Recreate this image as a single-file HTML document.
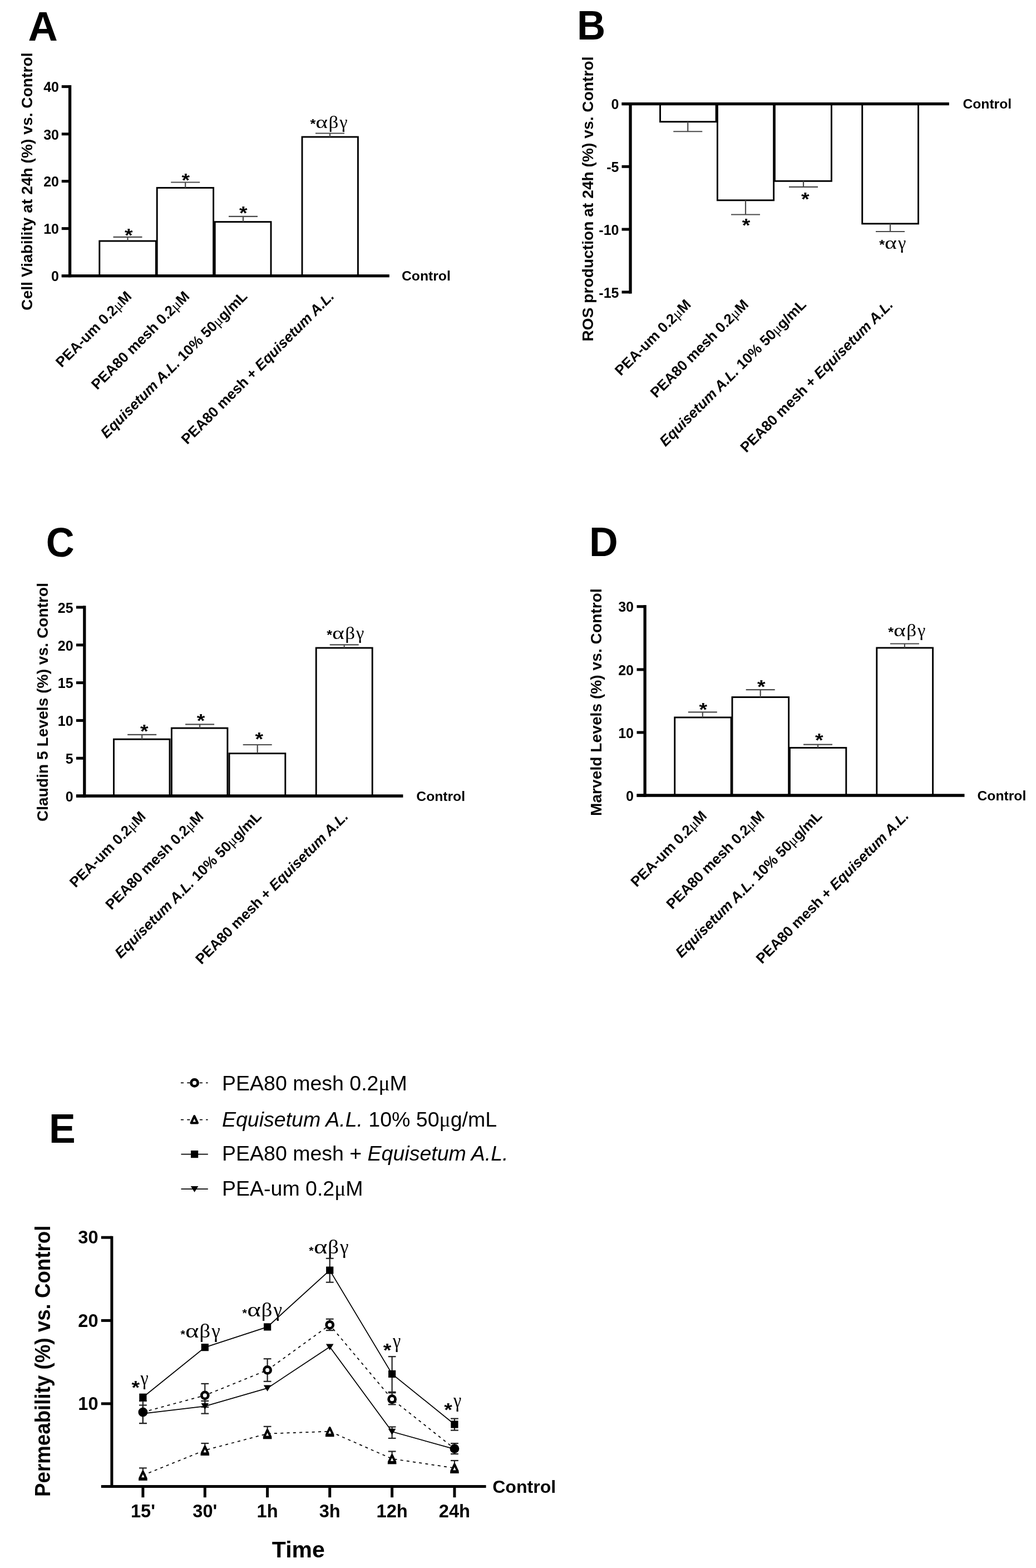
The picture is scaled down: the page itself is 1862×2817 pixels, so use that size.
<!DOCTYPE html>
<html lang="en"><head><meta charset="utf-8"><title>Figure</title>
<style>html,body{margin:0;padding:0;background:#fff;width:1862px;height:2817px;overflow:hidden}svg{display:block}text{white-space:pre}</style></head><body>
<svg width="1862" height="2817" viewBox="0 0 1862 2817" role="img" aria-label="Figure panels A to E">
<rect x="0" y="0" width="1862" height="2817" fill="#fff"/>
<g>
<rect x="178.80" y="433.00" width="101.60" height="62.60" fill="#fff" stroke="#000" stroke-width="2.9"/>
<rect x="282.20" y="337.40" width="101.40" height="158.20" fill="#fff" stroke="#000" stroke-width="2.9"/>
<rect x="386.20" y="398.60" width="100.80" height="97.00" fill="#fff" stroke="#000" stroke-width="2.9"/>
<rect x="543.00" y="246.00" width="100.40" height="249.60" fill="#fff" stroke="#000" stroke-width="2.9"/>
<line x1="229.50" y1="433.00" x2="229.50" y2="425.80" stroke="#4a4a4a" stroke-width="2.2"/>
<line x1="203.50" y1="425.80" x2="255.50" y2="425.80" stroke="#4a4a4a" stroke-width="2.2"/>
<line x1="333.20" y1="337.40" x2="333.20" y2="327.50" stroke="#4a4a4a" stroke-width="2.2"/>
<line x1="307.20" y1="327.50" x2="359.20" y2="327.50" stroke="#4a4a4a" stroke-width="2.2"/>
<line x1="437.00" y1="398.60" x2="437.00" y2="388.80" stroke="#4a4a4a" stroke-width="2.2"/>
<line x1="411.00" y1="388.80" x2="463.00" y2="388.80" stroke="#4a4a4a" stroke-width="2.2"/>
<line x1="593.00" y1="246.00" x2="593.00" y2="239.50" stroke="#4a4a4a" stroke-width="2.2"/>
<line x1="567.00" y1="239.50" x2="619.00" y2="239.50" stroke="#4a4a4a" stroke-width="2.2"/>
<line x1="125.60" y1="152.95" x2="125.60" y2="498.25" stroke="#000" stroke-width="5.3"/>
<line x1="110.80" y1="495.60" x2="699.80" y2="495.60" stroke="#000" stroke-width="5.3"/>
<line x1="110.80" y1="495.60" x2="125.60" y2="495.60" stroke="#000" stroke-width="5"/>
<text transform="translate(106.00 505.34) scale(1 1.04)" font-family='"Liberation Sans", Arial, Helvetica, sans-serif' font-size="25" font-weight="bold" font-style="normal" text-anchor="end" fill="#000">0</text>
<line x1="110.80" y1="410.60" x2="125.60" y2="410.60" stroke="#000" stroke-width="5"/>
<text transform="translate(106.00 420.34) scale(1 1.04)" font-family='"Liberation Sans", Arial, Helvetica, sans-serif' font-size="25" font-weight="bold" font-style="normal" text-anchor="end" fill="#000">10</text>
<line x1="110.80" y1="325.60" x2="125.60" y2="325.60" stroke="#000" stroke-width="5"/>
<text transform="translate(106.00 335.34) scale(1 1.04)" font-family='"Liberation Sans", Arial, Helvetica, sans-serif' font-size="25" font-weight="bold" font-style="normal" text-anchor="end" fill="#000">20</text>
<line x1="110.80" y1="240.80" x2="125.60" y2="240.80" stroke="#000" stroke-width="5"/>
<text transform="translate(106.00 250.54) scale(1 1.04)" font-family='"Liberation Sans", Arial, Helvetica, sans-serif' font-size="25" font-weight="bold" font-style="normal" text-anchor="end" fill="#000">30</text>
<line x1="110.80" y1="155.60" x2="125.60" y2="155.60" stroke="#000" stroke-width="5"/>
<text transform="translate(106.00 165.34) scale(1 1.04)" font-family='"Liberation Sans", Arial, Helvetica, sans-serif' font-size="25" font-weight="bold" font-style="normal" text-anchor="end" fill="#000">40</text>
<text transform="translate(722.00 504.40)" font-family='"Liberation Sans", Arial, Helvetica, sans-serif' font-size="24.7" font-weight="bold" font-style="normal" text-anchor="start" fill="#000">Control</text>
<text transform="translate(50.60 73.30)" font-family='"Liberation Sans", Arial, Helvetica, sans-serif' font-size="73.8" font-weight="bold" font-style="normal" text-anchor="start" fill="#000">A</text>
<text transform="translate(57.80 94.50) rotate(-90)" font-family='"Liberation Sans", Arial, Helvetica, sans-serif' font-size="28.2" font-weight="bold" font-style="normal" text-anchor="end" fill="#000">Cell Viability at 24h (%) vs. Control</text>
<text transform="translate(238.00 534.00) rotate(-45)" font-family='"Liberation Sans", Arial, Helvetica, sans-serif' font-size="26" font-weight="bold" font-style="normal" text-anchor="end" fill="#000"><tspan>PEA-um 0.2</tspan><tspan font-family="'Liberation Serif', 'Times New Roman', serif" font-weight="normal" font-style="normal">μ</tspan><tspan>M</tspan></text>
<text transform="translate(342.00 534.00) rotate(-45)" font-family='"Liberation Sans", Arial, Helvetica, sans-serif' font-size="26" font-weight="bold" font-style="normal" text-anchor="end" fill="#000"><tspan>PEA80 mesh 0.2</tspan><tspan font-family="'Liberation Serif', 'Times New Roman', serif" font-weight="normal" font-style="normal">μ</tspan><tspan>M</tspan></text>
<text transform="translate(446.00 534.00) rotate(-45)" font-family='"Liberation Sans", Arial, Helvetica, sans-serif' font-size="26" font-weight="bold" font-style="normal" text-anchor="end" fill="#000"><tspan font-style="italic">Equisetum A.L.</tspan><tspan> 10% 50</tspan><tspan font-family="'Liberation Serif', 'Times New Roman', serif" font-weight="normal" font-style="normal">μ</tspan><tspan>g/mL</tspan></text>
<text transform="translate(602.00 534.00) rotate(-45)" font-family='"Liberation Sans", Arial, Helvetica, sans-serif' font-size="26" font-weight="bold" font-style="normal" text-anchor="end" fill="#000"><tspan>PEA80 mesh + </tspan><tspan font-style="italic">Equisetum A.L.</tspan></text>
<text transform="translate(223.99 433.57) scale(1.1 1)" font-family='"Liberation Sans", Arial, Helvetica, sans-serif' font-size="34" font-weight="bold" font-style="normal" text-anchor="start" fill="#000">*</text>
<text transform="translate(326.49 334.87) scale(1.1 1)" font-family='"Liberation Sans", Arial, Helvetica, sans-serif' font-size="34" font-weight="bold" font-style="normal" text-anchor="start" fill="#000">*</text>
<text transform="translate(429.89 393.87) scale(1.1 1)" font-family='"Liberation Sans", Arial, Helvetica, sans-serif' font-size="34" font-weight="bold" font-style="normal" text-anchor="start" fill="#000">*</text>
<text font-family='"Liberation Serif", "Times New Roman", serif' font-size="32" font-weight="normal" fill="#000"><tspan x="557.40" y="230.75" font-family='"Liberation Sans", Arial, Helvetica, sans-serif' font-weight="bold" font-size="23" textLength="9.85" lengthAdjust="spacingAndGlyphs">*</tspan><tspan x="567.17" y="229.60" textLength="21.73" lengthAdjust="spacingAndGlyphs">α</tspan><tspan x="590.51" y="229.60" textLength="17.82" lengthAdjust="spacingAndGlyphs">β</tspan><tspan x="610.38" y="229.60" textLength="14.31" lengthAdjust="spacingAndGlyphs">γ</tspan></text>
<rect x="1186.50" y="186.60" width="100.60" height="32.15" fill="#fff" stroke="#000" stroke-width="2.9"/>
<rect x="1289.40" y="186.60" width="101.20" height="173.20" fill="#fff" stroke="#000" stroke-width="2.9"/>
<rect x="1392.40" y="186.60" width="102.00" height="138.70" fill="#fff" stroke="#000" stroke-width="2.9"/>
<rect x="1549.70" y="186.60" width="100.80" height="215.30" fill="#fff" stroke="#000" stroke-width="2.9"/>
<line x1="1236.25" y1="218.75" x2="1236.25" y2="236.25" stroke="#4a4a4a" stroke-width="2.2"/>
<line x1="1210.25" y1="236.25" x2="1262.25" y2="236.25" stroke="#4a4a4a" stroke-width="2.2"/>
<line x1="1340.00" y1="359.80" x2="1340.00" y2="385.50" stroke="#4a4a4a" stroke-width="2.2"/>
<line x1="1314.00" y1="385.50" x2="1366.00" y2="385.50" stroke="#4a4a4a" stroke-width="2.2"/>
<line x1="1444.00" y1="325.30" x2="1444.00" y2="335.80" stroke="#4a4a4a" stroke-width="2.2"/>
<line x1="1418.00" y1="335.80" x2="1470.00" y2="335.80" stroke="#4a4a4a" stroke-width="2.2"/>
<line x1="1600.00" y1="401.90" x2="1600.00" y2="416.00" stroke="#4a4a4a" stroke-width="2.2"/>
<line x1="1574.00" y1="416.00" x2="1626.00" y2="416.00" stroke="#4a4a4a" stroke-width="2.2"/>
<line x1="1133.00" y1="183.95" x2="1133.00" y2="527.45" stroke="#000" stroke-width="5.3"/>
<line x1="1117.50" y1="186.60" x2="1705.80" y2="186.60" stroke="#000" stroke-width="5.3"/>
<line x1="1117.50" y1="186.60" x2="1133.00" y2="186.60" stroke="#000" stroke-width="5"/>
<text transform="translate(1112.50 196.34) scale(1 1.04)" font-family='"Liberation Sans", Arial, Helvetica, sans-serif' font-size="25" font-weight="bold" font-style="normal" text-anchor="end" fill="#000">0</text>
<line x1="1117.50" y1="299.30" x2="1133.00" y2="299.30" stroke="#000" stroke-width="5"/>
<text transform="translate(1112.50 309.04) scale(1 1.04)" font-family='"Liberation Sans", Arial, Helvetica, sans-serif' font-size="25" font-weight="bold" font-style="normal" text-anchor="end" fill="#000">-5</text>
<line x1="1117.50" y1="412.00" x2="1133.00" y2="412.00" stroke="#000" stroke-width="5"/>
<text transform="translate(1112.50 421.74) scale(1 1.04)" font-family='"Liberation Sans", Arial, Helvetica, sans-serif' font-size="25" font-weight="bold" font-style="normal" text-anchor="end" fill="#000">-10</text>
<line x1="1117.50" y1="524.80" x2="1133.00" y2="524.80" stroke="#000" stroke-width="5"/>
<text transform="translate(1112.50 534.54) scale(1 1.04)" font-family='"Liberation Sans", Arial, Helvetica, sans-serif' font-size="25" font-weight="bold" font-style="normal" text-anchor="end" fill="#000">-15</text>
<text transform="translate(1730.40 195.40)" font-family='"Liberation Sans", Arial, Helvetica, sans-serif' font-size="24.7" font-weight="bold" font-style="normal" text-anchor="start" fill="#000">Control</text>
<text transform="translate(1036.90 71.30) scale(0.96 1)" font-family='"Liberation Sans", Arial, Helvetica, sans-serif' font-size="73.8" font-weight="bold" font-style="normal" text-anchor="start" fill="#000">B</text>
<text transform="translate(1066.00 101.50) rotate(-90)" font-family='"Liberation Sans", Arial, Helvetica, sans-serif' font-size="28.2" font-weight="bold" font-style="normal" text-anchor="end" fill="#000">ROS production at 24h (%) vs. Control</text>
<text transform="translate(1243.20 548.80) rotate(-45)" font-family='"Liberation Sans", Arial, Helvetica, sans-serif' font-size="26" font-weight="bold" font-style="normal" text-anchor="end" fill="#000"><tspan>PEA-um 0.2</tspan><tspan font-family="'Liberation Serif', 'Times New Roman', serif" font-weight="normal" font-style="normal">μ</tspan><tspan>M</tspan></text>
<text transform="translate(1346.70 548.80) rotate(-45)" font-family='"Liberation Sans", Arial, Helvetica, sans-serif' font-size="26" font-weight="bold" font-style="normal" text-anchor="end" fill="#000"><tspan>PEA80 mesh 0.2</tspan><tspan font-family="'Liberation Serif', 'Times New Roman', serif" font-weight="normal" font-style="normal">μ</tspan><tspan>M</tspan></text>
<text transform="translate(1450.40 548.80) rotate(-45)" font-family='"Liberation Sans", Arial, Helvetica, sans-serif' font-size="26" font-weight="bold" font-style="normal" text-anchor="end" fill="#000"><tspan font-style="italic">Equisetum A.L.</tspan><tspan> 10% 50</tspan><tspan font-family="'Liberation Serif', 'Times New Roman', serif" font-weight="normal" font-style="normal">μ</tspan><tspan>g/mL</tspan></text>
<text transform="translate(1606.70 548.80) rotate(-45)" font-family='"Liberation Sans", Arial, Helvetica, sans-serif' font-size="26" font-weight="bold" font-style="normal" text-anchor="end" fill="#000"><tspan>PEA80 mesh + </tspan><tspan font-style="italic">Equisetum A.L.</tspan></text>
<text transform="translate(1333.69 415.67) scale(1.1 1)" font-family='"Liberation Sans", Arial, Helvetica, sans-serif' font-size="34" font-weight="bold" font-style="normal" text-anchor="start" fill="#000">*</text>
<text transform="translate(1439.99 369.07) scale(1.1 1)" font-family='"Liberation Sans", Arial, Helvetica, sans-serif' font-size="34" font-weight="bold" font-style="normal" text-anchor="start" fill="#000">*</text>
<text font-family='"Liberation Serif", "Times New Roman", serif' font-size="32" font-weight="normal" fill="#000"><tspan x="1580.15" y="448.15" font-family='"Liberation Sans", Arial, Helvetica, sans-serif' font-weight="bold" font-size="23" textLength="9.85" lengthAdjust="spacingAndGlyphs">*</tspan><tspan x="1589.92" y="447.00" textLength="21.73" lengthAdjust="spacingAndGlyphs">α</tspan><tspan x="1613.93" y="447.00" textLength="14.31" lengthAdjust="spacingAndGlyphs">γ</tspan></text>
<rect x="204.50" y="1328.10" width="100.50" height="101.90" fill="#fff" stroke="#000" stroke-width="2.9"/>
<rect x="308.40" y="1308.10" width="100.50" height="121.90" fill="#fff" stroke="#000" stroke-width="2.9"/>
<rect x="412.00" y="1353.60" width="100.80" height="76.40" fill="#fff" stroke="#000" stroke-width="2.9"/>
<rect x="568.20" y="1164.00" width="101.00" height="266.00" fill="#fff" stroke="#000" stroke-width="2.9"/>
<line x1="255.20" y1="1328.10" x2="255.20" y2="1319.80" stroke="#4a4a4a" stroke-width="2.2"/>
<line x1="229.20" y1="1319.80" x2="281.20" y2="1319.80" stroke="#4a4a4a" stroke-width="2.2"/>
<line x1="359.10" y1="1308.10" x2="359.10" y2="1301.40" stroke="#4a4a4a" stroke-width="2.2"/>
<line x1="333.10" y1="1301.40" x2="385.10" y2="1301.40" stroke="#4a4a4a" stroke-width="2.2"/>
<line x1="462.70" y1="1353.60" x2="462.70" y2="1338.00" stroke="#4a4a4a" stroke-width="2.2"/>
<line x1="436.70" y1="1338.00" x2="488.70" y2="1338.00" stroke="#4a4a4a" stroke-width="2.2"/>
<line x1="618.70" y1="1164.00" x2="618.70" y2="1158.30" stroke="#4a4a4a" stroke-width="2.2"/>
<line x1="592.70" y1="1158.30" x2="644.70" y2="1158.30" stroke="#4a4a4a" stroke-width="2.2"/>
<line x1="151.80" y1="1088.35" x2="151.80" y2="1432.65" stroke="#000" stroke-width="5.3"/>
<line x1="136.90" y1="1430.00" x2="724.40" y2="1430.00" stroke="#000" stroke-width="5.3"/>
<line x1="136.90" y1="1430.00" x2="151.80" y2="1430.00" stroke="#000" stroke-width="5"/>
<text transform="translate(131.60 1439.74) scale(1 1.04)" font-family='"Liberation Sans", Arial, Helvetica, sans-serif' font-size="25" font-weight="bold" font-style="normal" text-anchor="end" fill="#000">0</text>
<line x1="136.90" y1="1362.20" x2="151.80" y2="1362.20" stroke="#000" stroke-width="5"/>
<text transform="translate(131.60 1371.94) scale(1 1.04)" font-family='"Liberation Sans", Arial, Helvetica, sans-serif' font-size="25" font-weight="bold" font-style="normal" text-anchor="end" fill="#000">5</text>
<line x1="136.90" y1="1294.40" x2="151.80" y2="1294.40" stroke="#000" stroke-width="5"/>
<text transform="translate(131.60 1304.14) scale(1 1.04)" font-family='"Liberation Sans", Arial, Helvetica, sans-serif' font-size="25" font-weight="bold" font-style="normal" text-anchor="end" fill="#000">10</text>
<line x1="136.90" y1="1226.60" x2="151.80" y2="1226.60" stroke="#000" stroke-width="5"/>
<text transform="translate(131.60 1236.34) scale(1 1.04)" font-family='"Liberation Sans", Arial, Helvetica, sans-serif' font-size="25" font-weight="bold" font-style="normal" text-anchor="end" fill="#000">15</text>
<line x1="136.90" y1="1158.80" x2="151.80" y2="1158.80" stroke="#000" stroke-width="5"/>
<text transform="translate(131.60 1168.54) scale(1 1.04)" font-family='"Liberation Sans", Arial, Helvetica, sans-serif' font-size="25" font-weight="bold" font-style="normal" text-anchor="end" fill="#000">20</text>
<line x1="136.90" y1="1091.00" x2="151.80" y2="1091.00" stroke="#000" stroke-width="5"/>
<text transform="translate(131.60 1100.74) scale(1 1.04)" font-family='"Liberation Sans", Arial, Helvetica, sans-serif' font-size="25" font-weight="bold" font-style="normal" text-anchor="end" fill="#000">25</text>
<text transform="translate(748.30 1438.80)" font-family='"Liberation Sans", Arial, Helvetica, sans-serif' font-size="24.7" font-weight="bold" font-style="normal" text-anchor="start" fill="#000">Control</text>
<text transform="translate(82.80 999.60) scale(0.955 1)" font-family='"Liberation Sans", Arial, Helvetica, sans-serif' font-size="73.8" font-weight="bold" font-style="normal" text-anchor="start" fill="#000">C</text>
<text transform="translate(86.20 1046.90) rotate(-90)" font-family='"Liberation Sans", Arial, Helvetica, sans-serif' font-size="28.2" font-weight="bold" font-style="normal" text-anchor="end" fill="#000">Claudin 5 Levels (%) vs. Control</text>
<text transform="translate(263.20 1468.40) rotate(-45)" font-family='"Liberation Sans", Arial, Helvetica, sans-serif' font-size="26" font-weight="bold" font-style="normal" text-anchor="end" fill="#000"><tspan>PEA-um 0.2</tspan><tspan font-family="'Liberation Serif', 'Times New Roman', serif" font-weight="normal" font-style="normal">μ</tspan><tspan>M</tspan></text>
<text transform="translate(367.40 1468.40) rotate(-45)" font-family='"Liberation Sans", Arial, Helvetica, sans-serif' font-size="26" font-weight="bold" font-style="normal" text-anchor="end" fill="#000"><tspan>PEA80 mesh 0.2</tspan><tspan font-family="'Liberation Serif', 'Times New Roman', serif" font-weight="normal" font-style="normal">μ</tspan><tspan>M</tspan></text>
<text transform="translate(471.40 1468.40) rotate(-45)" font-family='"Liberation Sans", Arial, Helvetica, sans-serif' font-size="26" font-weight="bold" font-style="normal" text-anchor="end" fill="#000"><tspan font-style="italic">Equisetum A.L.</tspan><tspan> 10% 50</tspan><tspan font-family="'Liberation Serif', 'Times New Roman', serif" font-weight="normal" font-style="normal">μ</tspan><tspan>g/mL</tspan></text>
<text transform="translate(627.40 1468.40) rotate(-45)" font-family='"Liberation Sans", Arial, Helvetica, sans-serif' font-size="26" font-weight="bold" font-style="normal" text-anchor="end" fill="#000"><tspan>PEA80 mesh + </tspan><tspan font-style="italic">Equisetum A.L.</tspan></text>
<text transform="translate(251.89 1325.27) scale(1.1 1)" font-family='"Liberation Sans", Arial, Helvetica, sans-serif' font-size="34" font-weight="bold" font-style="normal" text-anchor="start" fill="#000">*</text>
<text transform="translate(353.69 1305.67) scale(1.1 1)" font-family='"Liberation Sans", Arial, Helvetica, sans-serif' font-size="34" font-weight="bold" font-style="normal" text-anchor="start" fill="#000">*</text>
<text transform="translate(458.49 1339.17) scale(1.1 1)" font-family='"Liberation Sans", Arial, Helvetica, sans-serif' font-size="34" font-weight="bold" font-style="normal" text-anchor="start" fill="#000">*</text>
<text font-family='"Liberation Serif", "Times New Roman", serif' font-size="32" font-weight="normal" fill="#000"><tspan x="587.15" y="1149.15" font-family='"Liberation Sans", Arial, Helvetica, sans-serif' font-weight="bold" font-size="23" textLength="9.85" lengthAdjust="spacingAndGlyphs">*</tspan><tspan x="596.92" y="1148.00" textLength="21.73" lengthAdjust="spacingAndGlyphs">α</tspan><tspan x="620.26" y="1148.00" textLength="17.82" lengthAdjust="spacingAndGlyphs">β</tspan><tspan x="640.13" y="1148.00" textLength="14.31" lengthAdjust="spacingAndGlyphs">γ</tspan></text>
<rect x="1212.70" y="1288.90" width="101.40" height="140.10" fill="#fff" stroke="#000" stroke-width="2.9"/>
<rect x="1316.00" y="1252.50" width="101.60" height="176.50" fill="#fff" stroke="#000" stroke-width="2.9"/>
<rect x="1419.40" y="1343.40" width="101.40" height="85.60" fill="#fff" stroke="#000" stroke-width="2.9"/>
<rect x="1575.80" y="1163.90" width="100.80" height="265.10" fill="#fff" stroke="#000" stroke-width="2.9"/>
<line x1="1262.80" y1="1288.90" x2="1262.80" y2="1279.40" stroke="#4a4a4a" stroke-width="2.2"/>
<line x1="1236.80" y1="1279.40" x2="1288.80" y2="1279.40" stroke="#4a4a4a" stroke-width="2.2"/>
<line x1="1366.70" y1="1252.50" x2="1366.70" y2="1239.10" stroke="#4a4a4a" stroke-width="2.2"/>
<line x1="1340.70" y1="1239.10" x2="1392.70" y2="1239.10" stroke="#4a4a4a" stroke-width="2.2"/>
<line x1="1470.00" y1="1343.40" x2="1470.00" y2="1337.60" stroke="#4a4a4a" stroke-width="2.2"/>
<line x1="1444.00" y1="1337.60" x2="1496.00" y2="1337.60" stroke="#4a4a4a" stroke-width="2.2"/>
<line x1="1625.90" y1="1163.90" x2="1625.90" y2="1156.50" stroke="#4a4a4a" stroke-width="2.2"/>
<line x1="1599.90" y1="1156.50" x2="1651.90" y2="1156.50" stroke="#4a4a4a" stroke-width="2.2"/>
<line x1="1159.10" y1="1087.05" x2="1159.10" y2="1431.65" stroke="#000" stroke-width="5.3"/>
<line x1="1144.50" y1="1429.00" x2="1733.50" y2="1429.00" stroke="#000" stroke-width="5.3"/>
<line x1="1144.50" y1="1429.00" x2="1159.10" y2="1429.00" stroke="#000" stroke-width="5"/>
<text transform="translate(1139.00 1438.74) scale(1 1.04)" font-family='"Liberation Sans", Arial, Helvetica, sans-serif' font-size="25" font-weight="bold" font-style="normal" text-anchor="end" fill="#000">0</text>
<line x1="1144.50" y1="1315.90" x2="1159.10" y2="1315.90" stroke="#000" stroke-width="5"/>
<text transform="translate(1139.00 1325.64) scale(1 1.04)" font-family='"Liberation Sans", Arial, Helvetica, sans-serif' font-size="25" font-weight="bold" font-style="normal" text-anchor="end" fill="#000">10</text>
<line x1="1144.50" y1="1202.90" x2="1159.10" y2="1202.90" stroke="#000" stroke-width="5"/>
<text transform="translate(1139.00 1212.64) scale(1 1.04)" font-family='"Liberation Sans", Arial, Helvetica, sans-serif' font-size="25" font-weight="bold" font-style="normal" text-anchor="end" fill="#000">20</text>
<line x1="1144.50" y1="1089.70" x2="1159.10" y2="1089.70" stroke="#000" stroke-width="5"/>
<text transform="translate(1139.00 1099.44) scale(1 1.04)" font-family='"Liberation Sans", Arial, Helvetica, sans-serif' font-size="25" font-weight="bold" font-style="normal" text-anchor="end" fill="#000">30</text>
<text transform="translate(1756.50 1437.80)" font-family='"Liberation Sans", Arial, Helvetica, sans-serif' font-size="24.7" font-weight="bold" font-style="normal" text-anchor="start" fill="#000">Control</text>
<text transform="translate(1059.10 999.30) scale(0.97 1)" font-family='"Liberation Sans", Arial, Helvetica, sans-serif' font-size="73.8" font-weight="bold" font-style="normal" text-anchor="start" fill="#000">D</text>
<text transform="translate(1081.20 1057.20) rotate(-90)" font-family='"Liberation Sans", Arial, Helvetica, sans-serif' font-size="28.2" font-weight="bold" font-style="normal" text-anchor="end" fill="#000">Marveld Levels (%) vs. Control</text>
<text transform="translate(1271.70 1467.40) rotate(-45)" font-family='"Liberation Sans", Arial, Helvetica, sans-serif' font-size="26" font-weight="bold" font-style="normal" text-anchor="end" fill="#000"><tspan>PEA-um 0.2</tspan><tspan font-family="'Liberation Serif', 'Times New Roman', serif" font-weight="normal" font-style="normal">μ</tspan><tspan>M</tspan></text>
<text transform="translate(1375.50 1467.40) rotate(-45)" font-family='"Liberation Sans", Arial, Helvetica, sans-serif' font-size="26" font-weight="bold" font-style="normal" text-anchor="end" fill="#000"><tspan>PEA80 mesh 0.2</tspan><tspan font-family="'Liberation Serif', 'Times New Roman', serif" font-weight="normal" font-style="normal">μ</tspan><tspan>M</tspan></text>
<text transform="translate(1479.10 1467.40) rotate(-45)" font-family='"Liberation Sans", Arial, Helvetica, sans-serif' font-size="26" font-weight="bold" font-style="normal" text-anchor="end" fill="#000"><tspan font-style="italic">Equisetum A.L.</tspan><tspan> 10% 50</tspan><tspan font-family="'Liberation Serif', 'Times New Roman', serif" font-weight="normal" font-style="normal">μ</tspan><tspan>g/mL</tspan></text>
<text transform="translate(1634.90 1467.40) rotate(-45)" font-family='"Liberation Sans", Arial, Helvetica, sans-serif' font-size="26" font-weight="bold" font-style="normal" text-anchor="end" fill="#000"><tspan>PEA80 mesh + </tspan><tspan font-style="italic">Equisetum A.L.</tspan></text>
<text transform="translate(1256.49 1286.07) scale(1.1 1)" font-family='"Liberation Sans", Arial, Helvetica, sans-serif' font-size="34" font-weight="bold" font-style="normal" text-anchor="start" fill="#000">*</text>
<text transform="translate(1360.99 1244.57) scale(1.1 1)" font-family='"Liberation Sans", Arial, Helvetica, sans-serif' font-size="34" font-weight="bold" font-style="normal" text-anchor="start" fill="#000">*</text>
<text transform="translate(1464.89 1340.67) scale(1.1 1)" font-family='"Liberation Sans", Arial, Helvetica, sans-serif' font-size="34" font-weight="bold" font-style="normal" text-anchor="start" fill="#000">*</text>
<text font-family='"Liberation Serif", "Times New Roman", serif' font-size="32" font-weight="normal" fill="#000"><tspan x="1596.15" y="1144.45" font-family='"Liberation Sans", Arial, Helvetica, sans-serif' font-weight="bold" font-size="23" textLength="9.85" lengthAdjust="spacingAndGlyphs">*</tspan><tspan x="1605.92" y="1143.30" textLength="21.73" lengthAdjust="spacingAndGlyphs">α</tspan><tspan x="1629.26" y="1143.30" textLength="17.82" lengthAdjust="spacingAndGlyphs">β</tspan><tspan x="1649.13" y="1143.30" textLength="14.31" lengthAdjust="spacingAndGlyphs">γ</tspan></text>
<polyline points="256.9,2650.3 368.3,2605.4 480.6,2575.7 592.7,2571.6 704.6,2620.8 816.9,2637.4" fill="none" stroke="#000" stroke-width="1.75" stroke-dasharray="5 6.3"/>
<polyline points="256.9,2537.0 368.3,2506.9 480.6,2461.4 592.7,2380.3 704.6,2513.7 816.9,2602.6" fill="none" stroke="#000" stroke-width="1.75" stroke-dasharray="5 6.3"/>
<polyline points="256.9,2539.7 368.3,2526.4 480.6,2493.9 592.7,2419.8 704.6,2572.0 816.9,2603.4" fill="none" stroke="#000" stroke-width="1.75"/>
<polyline points="256.9,2510.2 368.3,2420.6 480.6,2383.9 592.7,2282.1 704.6,2468.4 816.9,2559.0" fill="none" stroke="#000" stroke-width="1.75"/>
<line x1="592.70" y1="2260.80" x2="592.70" y2="2303.70" stroke="#222" stroke-width="2.2"/>
<line x1="585.80" y1="2260.80" x2="599.60" y2="2260.80" stroke="#222" stroke-width="2.2"/>
<line x1="585.80" y1="2303.70" x2="599.60" y2="2303.70" stroke="#222" stroke-width="2.2"/>
<line x1="704.60" y1="2437.20" x2="704.60" y2="2500.80" stroke="#222" stroke-width="2.2"/>
<line x1="697.70" y1="2437.20" x2="711.50" y2="2437.20" stroke="#222" stroke-width="2.2"/>
<line x1="697.70" y1="2500.80" x2="711.50" y2="2500.80" stroke="#222" stroke-width="2.2"/>
<line x1="816.90" y1="2548.60" x2="816.90" y2="2569.60" stroke="#222" stroke-width="2.2"/>
<line x1="810.00" y1="2548.60" x2="823.80" y2="2548.60" stroke="#222" stroke-width="2.2"/>
<line x1="810.00" y1="2569.60" x2="823.80" y2="2569.60" stroke="#222" stroke-width="2.2"/>
<line x1="256.90" y1="2517.00" x2="256.90" y2="2557.00" stroke="#222" stroke-width="2.2"/>
<line x1="250.00" y1="2517.00" x2="263.80" y2="2517.00" stroke="#222" stroke-width="2.2"/>
<line x1="250.00" y1="2557.00" x2="263.80" y2="2557.00" stroke="#222" stroke-width="2.2"/>
<line x1="368.30" y1="2485.90" x2="368.30" y2="2527.90" stroke="#222" stroke-width="2.2"/>
<line x1="361.40" y1="2485.90" x2="375.20" y2="2485.90" stroke="#222" stroke-width="2.2"/>
<line x1="361.40" y1="2527.90" x2="375.20" y2="2527.90" stroke="#222" stroke-width="2.2"/>
<line x1="480.60" y1="2441.20" x2="480.60" y2="2481.80" stroke="#222" stroke-width="2.2"/>
<line x1="473.70" y1="2441.20" x2="487.50" y2="2441.20" stroke="#222" stroke-width="2.2"/>
<line x1="473.70" y1="2481.80" x2="487.50" y2="2481.80" stroke="#222" stroke-width="2.2"/>
<line x1="592.70" y1="2369.70" x2="592.70" y2="2390.10" stroke="#222" stroke-width="2.2"/>
<line x1="585.80" y1="2369.70" x2="599.60" y2="2369.70" stroke="#222" stroke-width="2.2"/>
<line x1="585.80" y1="2390.10" x2="599.60" y2="2390.10" stroke="#222" stroke-width="2.2"/>
<line x1="704.60" y1="2502.30" x2="704.60" y2="2523.30" stroke="#222" stroke-width="2.2"/>
<line x1="697.70" y1="2502.30" x2="711.50" y2="2502.30" stroke="#222" stroke-width="2.2"/>
<line x1="697.70" y1="2523.30" x2="711.50" y2="2523.30" stroke="#222" stroke-width="2.2"/>
<line x1="816.90" y1="2593.10" x2="816.90" y2="2612.10" stroke="#222" stroke-width="2.2"/>
<line x1="810.00" y1="2593.10" x2="823.80" y2="2593.10" stroke="#222" stroke-width="2.2"/>
<line x1="810.00" y1="2612.10" x2="823.80" y2="2612.10" stroke="#222" stroke-width="2.2"/>
<line x1="256.90" y1="2524.50" x2="256.90" y2="2557.10" stroke="#222" stroke-width="2.2"/>
<line x1="250.00" y1="2524.50" x2="263.80" y2="2524.50" stroke="#222" stroke-width="2.2"/>
<line x1="250.00" y1="2557.10" x2="263.80" y2="2557.10" stroke="#222" stroke-width="2.2"/>
<line x1="368.30" y1="2516.90" x2="368.30" y2="2539.60" stroke="#222" stroke-width="2.2"/>
<line x1="361.40" y1="2516.90" x2="375.20" y2="2516.90" stroke="#222" stroke-width="2.2"/>
<line x1="361.40" y1="2539.60" x2="375.20" y2="2539.60" stroke="#222" stroke-width="2.2"/>
<line x1="704.60" y1="2563.50" x2="704.60" y2="2583.90" stroke="#222" stroke-width="2.2"/>
<line x1="697.70" y1="2563.50" x2="711.50" y2="2563.50" stroke="#222" stroke-width="2.2"/>
<line x1="697.70" y1="2583.90" x2="711.50" y2="2583.90" stroke="#222" stroke-width="2.2"/>
<line x1="256.90" y1="2637.40" x2="256.90" y2="2650.30" stroke="#222" stroke-width="2.2"/>
<line x1="250.00" y1="2637.40" x2="263.80" y2="2637.40" stroke="#222" stroke-width="2.2"/>
<line x1="368.30" y1="2593.00" x2="368.30" y2="2605.40" stroke="#222" stroke-width="2.2"/>
<line x1="361.40" y1="2593.00" x2="375.20" y2="2593.00" stroke="#222" stroke-width="2.2"/>
<line x1="480.60" y1="2562.80" x2="480.60" y2="2575.70" stroke="#222" stroke-width="2.2"/>
<line x1="473.70" y1="2562.80" x2="487.50" y2="2562.80" stroke="#222" stroke-width="2.2"/>
<line x1="704.60" y1="2607.50" x2="704.60" y2="2620.80" stroke="#222" stroke-width="2.2"/>
<line x1="697.70" y1="2607.50" x2="711.50" y2="2607.50" stroke="#222" stroke-width="2.2"/>
<line x1="816.90" y1="2624.00" x2="816.90" y2="2637.40" stroke="#222" stroke-width="2.2"/>
<line x1="810.00" y1="2624.00" x2="823.80" y2="2624.00" stroke="#222" stroke-width="2.2"/>
<polygon points="256.90,2643.80 262.70,2656.20 251.10,2656.20" fill="#fff" stroke="#000" stroke-width="4" stroke-linejoin="round"/>
<line x1="249.10" y1="2658.60" x2="264.70" y2="2658.60" stroke="#000" stroke-width="2.6"/>
<polygon points="368.30,2598.90 374.10,2611.30 362.50,2611.30" fill="#fff" stroke="#000" stroke-width="4" stroke-linejoin="round"/>
<line x1="360.50" y1="2613.70" x2="376.10" y2="2613.70" stroke="#000" stroke-width="2.6"/>
<polygon points="480.60,2569.20 486.40,2581.60 474.80,2581.60" fill="#fff" stroke="#000" stroke-width="4" stroke-linejoin="round"/>
<line x1="472.80" y1="2584.00" x2="488.40" y2="2584.00" stroke="#000" stroke-width="2.6"/>
<polygon points="592.70,2565.10 598.50,2577.50 586.90,2577.50" fill="#fff" stroke="#000" stroke-width="4" stroke-linejoin="round"/>
<line x1="584.90" y1="2579.90" x2="600.50" y2="2579.90" stroke="#000" stroke-width="2.6"/>
<polygon points="704.60,2614.30 710.40,2626.70 698.80,2626.70" fill="#fff" stroke="#000" stroke-width="4" stroke-linejoin="round"/>
<line x1="696.80" y1="2629.10" x2="712.40" y2="2629.10" stroke="#000" stroke-width="2.6"/>
<polygon points="816.90,2630.90 822.70,2643.30 811.10,2643.30" fill="#fff" stroke="#000" stroke-width="4" stroke-linejoin="round"/>
<line x1="809.10" y1="2645.70" x2="824.70" y2="2645.70" stroke="#000" stroke-width="2.6"/>
<circle cx="256.90" cy="2537.00" r="6" fill="#fff" stroke="#000" stroke-width="4.8"/>
<circle cx="256.90" cy="2537.00" r="5" fill="#000"/>
<circle cx="368.30" cy="2506.90" r="6" fill="#fff" stroke="#000" stroke-width="4.8"/>
<circle cx="480.60" cy="2461.40" r="6" fill="#fff" stroke="#000" stroke-width="4.8"/>
<circle cx="592.70" cy="2380.30" r="6" fill="#fff" stroke="#000" stroke-width="4.8"/>
<circle cx="704.60" cy="2513.70" r="6" fill="#fff" stroke="#000" stroke-width="4.8"/>
<circle cx="816.90" cy="2602.60" r="6" fill="#fff" stroke="#000" stroke-width="4.8"/>
<circle cx="816.90" cy="2602.60" r="5" fill="#000"/>
<polygon points="250.10,2534.40 263.70,2534.40 256.90,2545.60" fill="#000"/>
<polygon points="361.50,2521.10 375.10,2521.10 368.30,2532.30" fill="#000"/>
<polygon points="473.80,2488.60 487.40,2488.60 480.60,2499.80" fill="#000"/>
<polygon points="585.90,2414.50 599.50,2414.50 592.70,2425.70" fill="#000"/>
<polygon points="697.80,2566.70 711.40,2566.70 704.60,2577.90" fill="#000"/>
<polygon points="810.10,2598.10 823.70,2598.10 816.90,2609.30" fill="#000"/>
<rect x="250.30" y="2503.60" width="13.2" height="13.2" fill="#000"/>
<rect x="361.70" y="2414.00" width="13.2" height="13.2" fill="#000"/>
<rect x="474.00" y="2377.30" width="13.2" height="13.2" fill="#000"/>
<rect x="586.10" y="2275.50" width="13.2" height="13.2" fill="#000"/>
<rect x="698.00" y="2461.80" width="13.2" height="13.2" fill="#000"/>
<rect x="810.30" y="2552.40" width="13.2" height="13.2" fill="#000"/>
<line x1="200.90" y1="2220.70" x2="200.90" y2="2673.10" stroke="#000" stroke-width="5"/>
<line x1="181.80" y1="2670.60" x2="873.50" y2="2670.60" stroke="#000" stroke-width="5"/>
<line x1="181.80" y1="2223.20" x2="200.90" y2="2223.20" stroke="#000" stroke-width="5"/>
<text transform="translate(176.60 2234.35) scale(1 1.03)" font-family='"Liberation Sans", Arial, Helvetica, sans-serif' font-size="32.6" font-weight="bold" font-style="normal" text-anchor="end" fill="#000">30</text>
<line x1="181.80" y1="2372.40" x2="200.90" y2="2372.40" stroke="#000" stroke-width="5"/>
<text transform="translate(176.60 2383.55) scale(1 1.03)" font-family='"Liberation Sans", Arial, Helvetica, sans-serif' font-size="32.6" font-weight="bold" font-style="normal" text-anchor="end" fill="#000">20</text>
<line x1="181.80" y1="2521.80" x2="200.90" y2="2521.80" stroke="#000" stroke-width="5"/>
<text transform="translate(176.60 2532.95) scale(1 1.03)" font-family='"Liberation Sans", Arial, Helvetica, sans-serif' font-size="32.6" font-weight="bold" font-style="normal" text-anchor="end" fill="#000">10</text>
<line x1="256.90" y1="2670.60" x2="256.90" y2="2690.20" stroke="#000" stroke-width="5"/>
<text transform="translate(256.90 2726.30) scale(1 1.03)" font-family='"Liberation Sans", Arial, Helvetica, sans-serif' font-size="32.6" font-weight="bold" font-style="normal" text-anchor="middle" fill="#000">15'</text>
<line x1="368.30" y1="2670.60" x2="368.30" y2="2690.20" stroke="#000" stroke-width="5"/>
<text transform="translate(368.30 2726.30) scale(1 1.03)" font-family='"Liberation Sans", Arial, Helvetica, sans-serif' font-size="32.6" font-weight="bold" font-style="normal" text-anchor="middle" fill="#000">30'</text>
<line x1="480.60" y1="2670.60" x2="480.60" y2="2690.20" stroke="#000" stroke-width="5"/>
<text transform="translate(480.60 2726.30) scale(1 1.03)" font-family='"Liberation Sans", Arial, Helvetica, sans-serif' font-size="32.6" font-weight="bold" font-style="normal" text-anchor="middle" fill="#000">1h</text>
<line x1="592.70" y1="2670.60" x2="592.70" y2="2690.20" stroke="#000" stroke-width="5"/>
<text transform="translate(592.70 2726.30) scale(1 1.03)" font-family='"Liberation Sans", Arial, Helvetica, sans-serif' font-size="32.6" font-weight="bold" font-style="normal" text-anchor="middle" fill="#000">3h</text>
<line x1="704.60" y1="2670.60" x2="704.60" y2="2690.20" stroke="#000" stroke-width="5"/>
<text transform="translate(704.60 2726.30) scale(1 1.03)" font-family='"Liberation Sans", Arial, Helvetica, sans-serif' font-size="32.6" font-weight="bold" font-style="normal" text-anchor="middle" fill="#000">12h</text>
<line x1="816.90" y1="2670.60" x2="816.90" y2="2690.20" stroke="#000" stroke-width="5"/>
<text transform="translate(816.90 2726.30) scale(1 1.03)" font-family='"Liberation Sans", Arial, Helvetica, sans-serif' font-size="32.6" font-weight="bold" font-style="normal" text-anchor="middle" fill="#000">24h</text>
<text transform="translate(885.20 2682.24)" font-family='"Liberation Sans", Arial, Helvetica, sans-serif' font-size="32.1" font-weight="bold" font-style="normal" text-anchor="start" fill="#000">Control</text>
<text transform="translate(536.30 2797.80) scale(1 0.97)" font-family='"Liberation Sans", Arial, Helvetica, sans-serif' font-size="41" font-weight="bold" font-style="normal" text-anchor="middle" fill="#000">Time</text>
<text transform="translate(90.00 2201.60) rotate(-90) scale(1 1.04)" font-family='"Liberation Sans", Arial, Helvetica, sans-serif' font-size="36.7" font-weight="bold" font-style="normal" text-anchor="end" fill="#000">Permeability (%) vs. Control</text>
<text transform="translate(88.00 2052.80) scale(0.97 1)" font-family='"Liberation Sans", Arial, Helvetica, sans-serif' font-size="73.8" font-weight="bold" font-style="normal" text-anchor="start" fill="#000">E</text>
<line x1="324.50" y1="1945.40" x2="373.60" y2="1945.40" stroke="#000" stroke-width="1.75" stroke-dasharray="5 6.3" stroke-dashoffset="-0.5"/>
<circle cx="349.60" cy="1945.40" r="6" fill="#fff" stroke="#000" stroke-width="4.8"/>
<text transform="translate(399.00 1958.60)" font-family='"Liberation Sans", Arial, Helvetica, sans-serif' font-size="37.5" font-weight="normal" font-style="normal" text-anchor="start" fill="#000"><tspan>PEA80 mesh 0.2</tspan><tspan font-family="'Liberation Serif', 'Times New Roman', serif">μ</tspan><tspan>M</tspan></text>
<line x1="324.50" y1="2011.60" x2="373.60" y2="2011.60" stroke="#000" stroke-width="1.75" stroke-dasharray="5 6.3" stroke-dashoffset="-0.5"/>
<polygon points="349.30,2005.10 355.10,2017.50 343.50,2017.50" fill="#fff" stroke="#000" stroke-width="4" stroke-linejoin="round"/>
<text transform="translate(399.00 2023.80)" font-family='"Liberation Sans", Arial, Helvetica, sans-serif' font-size="37.5" font-weight="normal" font-style="normal" text-anchor="start" fill="#000"><tspan font-style="italic">Equisetum A.L.</tspan><tspan> 10% 50</tspan><tspan font-family="'Liberation Serif', 'Times New Roman', serif">μ</tspan><tspan>g/mL</tspan></text>
<line x1="325.50" y1="2073.60" x2="373.80" y2="2073.60" stroke="#000" stroke-width="1.75"/>
<rect x="343.00" y="2067.00" width="13.2" height="13.2" fill="#000"/>
<text transform="translate(399.00 2085.00)" font-family='"Liberation Sans", Arial, Helvetica, sans-serif' font-size="37.5" font-weight="normal" font-style="normal" text-anchor="start" fill="#000"><tspan>PEA80 mesh + </tspan><tspan font-style="italic">Equisetum A.L.</tspan></text>
<line x1="325.50" y1="2136.20" x2="373.80" y2="2136.20" stroke="#000" stroke-width="1.75"/>
<polygon points="342.80,2130.90 356.40,2130.90 349.60,2142.10" fill="#000"/>
<text transform="translate(399.00 2148.40)" font-family='"Liberation Sans", Arial, Helvetica, sans-serif' font-size="37.5" font-weight="normal" font-style="normal" text-anchor="start" fill="#000"><tspan>PEA-um 0.2</tspan><tspan font-family="'Liberation Serif', 'Times New Roman', serif">μ</tspan><tspan>M</tspan></text>
<text font-family='"Liberation Serif", "Times New Roman", serif' font-size="36.5" font-weight="normal" fill="#000"><tspan x="236.59" y="2503.67" font-family='"Liberation Sans", Arial, Helvetica, sans-serif' font-weight="bold" font-size="34" textLength="14.55" lengthAdjust="spacingAndGlyphs">*</tspan><tspan x="252.53" y="2488.40" textLength="14.21" lengthAdjust="spacingAndGlyphs">γ</tspan></text>
<text font-family='"Liberation Serif", "Times New Roman", serif' font-size="36.5" font-weight="normal" fill="#000"><tspan x="688.69" y="2436.57" font-family='"Liberation Sans", Arial, Helvetica, sans-serif' font-weight="bold" font-size="34" textLength="14.55" lengthAdjust="spacingAndGlyphs">*</tspan><tspan x="705.93" y="2420.50" textLength="14.21" lengthAdjust="spacingAndGlyphs">γ</tspan></text>
<text font-family='"Liberation Serif", "Times New Roman", serif' font-size="36.5" font-weight="normal" fill="#000"><tspan x="798.39" y="2544.37" font-family='"Liberation Sans", Arial, Helvetica, sans-serif' font-weight="bold" font-size="34" textLength="14.55" lengthAdjust="spacingAndGlyphs">*</tspan><tspan x="815.03" y="2528.30" textLength="14.21" lengthAdjust="spacingAndGlyphs">γ</tspan></text>
<text font-family='"Liberation Serif", "Times New Roman", serif' font-size="36" font-weight="normal" fill="#000"><tspan x="324.41" y="2404.39" font-family='"Liberation Sans", Arial, Helvetica, sans-serif' font-weight="bold" font-size="19.5" textLength="8.35" lengthAdjust="spacingAndGlyphs">*</tspan><tspan x="333.03" y="2403.00" textLength="24.44" lengthAdjust="spacingAndGlyphs">α</tspan><tspan x="358.20" y="2403.00" textLength="20.05" lengthAdjust="spacingAndGlyphs">β</tspan><tspan x="380.20" y="2403.00" textLength="15.53" lengthAdjust="spacingAndGlyphs">γ</tspan></text>
<text font-family='"Liberation Serif", "Times New Roman", serif' font-size="36" font-weight="normal" fill="#000"><tspan x="435.61" y="2366.39" font-family='"Liberation Sans", Arial, Helvetica, sans-serif' font-weight="bold" font-size="19.5" textLength="8.35" lengthAdjust="spacingAndGlyphs">*</tspan><tspan x="444.23" y="2365.00" textLength="24.44" lengthAdjust="spacingAndGlyphs">α</tspan><tspan x="469.40" y="2365.00" textLength="20.05" lengthAdjust="spacingAndGlyphs">β</tspan><tspan x="491.40" y="2365.00" textLength="15.53" lengthAdjust="spacingAndGlyphs">γ</tspan></text>
<text font-family='"Liberation Serif", "Times New Roman", serif' font-size="36" font-weight="normal" fill="#000"><tspan x="555.31" y="2253.69" font-family='"Liberation Sans", Arial, Helvetica, sans-serif' font-weight="bold" font-size="19.5" textLength="8.35" lengthAdjust="spacingAndGlyphs">*</tspan><tspan x="563.93" y="2252.30" textLength="24.44" lengthAdjust="spacingAndGlyphs">α</tspan><tspan x="589.10" y="2252.30" textLength="20.05" lengthAdjust="spacingAndGlyphs">β</tspan><tspan x="611.10" y="2252.30" textLength="15.53" lengthAdjust="spacingAndGlyphs">γ</tspan></text>
</g>
</svg></body></html>
